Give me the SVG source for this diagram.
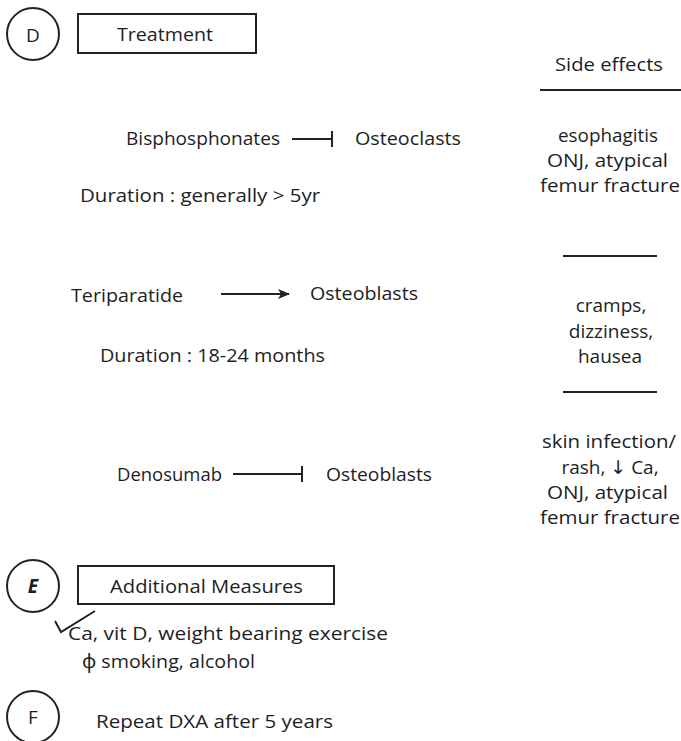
<svg xmlns="http://www.w3.org/2000/svg" width="681" height="741" viewBox="0 0 681 741">
<style>
text{font-family:"Open Sans","Noto Sans","DejaVu Sans",sans-serif;font-size:19px;fill:#1e1e1e}
.c{text-anchor:middle}
.ln{stroke:#222;stroke-width:2;fill:none}
.bx{stroke:#222;stroke-width:2;fill:#fff}
</style>
<defs>
<marker id="arr" viewBox="0 0 12 10" refX="11" refY="5" markerWidth="12" markerHeight="10" markerUnits="userSpaceOnUse" orient="auto">
<path d="M0,0 L12,5 L0,10 L3,5 Z" fill="#222"/>
</marker>
</defs>
<rect width="681" height="741" fill="#fff"/>
<g id="nodeD"><circle class="bx" cx="33" cy="34" r="26"/><text class="c" x="33" y="42">D</text></g>
<g id="treatment"><rect class="bx" x="78" y="14" width="178" height="39"/><text x="117" y="41" textLength="96" lengthAdjust="spacingAndGlyphs">Treatment</text></g>
<g id="sidefx"><text x="555" y="71" textLength="108" lengthAdjust="spacingAndGlyphs">Side effects</text><line class="ln" x1="540" y1="90" x2="681" y2="90"/></g>
<g id="bisph"><text x="126" y="145" textLength="154" lengthAdjust="spacingAndGlyphs">Bisphosphonates</text></g>
<g id="osteoclasts"><text x="355" y="145" textLength="106" lengthAdjust="spacingAndGlyphs">Osteoclasts</text></g>
<g id="dur1"><text x="80" y="202" textLength="240" lengthAdjust="spacingAndGlyphs">Duration : generally &gt; 5yr</text></g>
<g id="se1"><text x="558" y="142" textLength="100" lengthAdjust="spacingAndGlyphs">esophagitis</text><text x="547" y="167" textLength="121" lengthAdjust="spacingAndGlyphs">ONJ, atypical</text><text x="540" y="192" textLength="140" lengthAdjust="spacingAndGlyphs">femur fracture</text></g>
<g id="teri"><text x="71" y="302" textLength="112" lengthAdjust="spacingAndGlyphs">Teriparatide</text></g>
<g id="osteoblasts1"><text x="310" y="300" textLength="108" lengthAdjust="spacingAndGlyphs">Osteoblasts</text></g>
<g id="dur2"><text x="100" y="362" textLength="225" lengthAdjust="spacingAndGlyphs">Duration : 18-24 months</text></g>
<g id="se2"><text class="c" x="611" y="312">cramps,</text><text class="c" x="611" y="338">dizziness,</text><text class="c" x="610" y="363">hausea</text></g>
<g id="deno"><text x="117" y="481" textLength="105" lengthAdjust="spacingAndGlyphs">Denosumab</text></g>
<g id="osteoblasts2"><text x="326" y="481" textLength="106" lengthAdjust="spacingAndGlyphs">Osteoblasts</text></g>
<g id="se3"><text x="542" y="448" textLength="134" lengthAdjust="spacingAndGlyphs">skin infection/</text><text class="c" x="610" y="474">rash, ↓ Ca,</text><text x="547" y="499" textLength="121" lengthAdjust="spacingAndGlyphs">ONJ, atypical</text><text x="540" y="524" textLength="140" lengthAdjust="spacingAndGlyphs">femur fracture</text></g>
<g id="nodeE"><circle class="bx" cx="33" cy="586" r="26"/><text class="c" x="33" y="593" font-weight="bold" font-style="italic">E</text></g>
<g id="additional"><rect class="bx" x="78" y="566" width="256" height="38"/><text x="110" y="593" textLength="193" lengthAdjust="spacingAndGlyphs">Additional Measures</text></g>
<g id="measures"><path class="ln" d="M55,621 L61,632 L95,611" stroke-width="1.2"/><text x="68" y="640" textLength="320" lengthAdjust="spacingAndGlyphs">Ca, vit D, weight bearing exercise</text><text x="82" y="668" textLength="173" lengthAdjust="spacingAndGlyphs">ϕ smoking, alcohol</text></g>
<g id="nodeF"><circle class="bx" cx="33" cy="717" r="26"/><text class="c" x="33" y="724">F</text></g>
<g id="repeat"><text x="96" y="728" textLength="237" lengthAdjust="spacingAndGlyphs">Repeat DXA after 5 years</text></g>
<g id="connectors">
<line class="ln" x1="292" y1="139" x2="332" y2="139"/><line class="ln" x1="332" y1="131" x2="332" y2="147"/>
<line class="ln" x1="221" y1="294" x2="289" y2="294" marker-end="url(#arr)"/>
<line class="ln" x1="233" y1="474" x2="302" y2="474"/><line class="ln" x1="302" y1="466" x2="302" y2="482"/>
<line class="ln" x1="563" y1="256" x2="657" y2="256"/>
<line class="ln" x1="563" y1="392" x2="657" y2="392"/>
</g>
</svg>
